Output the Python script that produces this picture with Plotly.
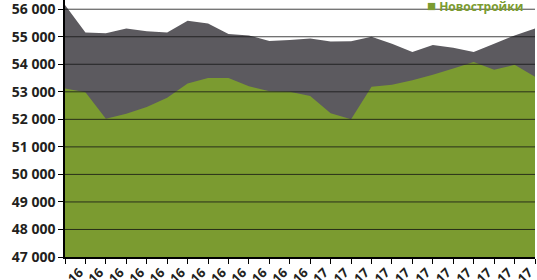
import plotly.graph_objects as go

# categories (only the visible year suffix of each label)
tick_labels = [""] + ["16"] * 12 + ["17"] * 11
x_idx = list(range(24))

# secondary market (grey, behind)
secondary = [56150, 55150, 55130, 55300, 55200, 55150, 55580, 55480, 55100, 55050,
             54850, 54880, 54940, 54830, 54840, 55000, 54750, 54450, 54700, 54600,
             54450, 54750, 55050, 55300]
# new buildings (green, front)
new_builds = [53120, 52980, 52020, 52200, 52450, 52780, 53300, 53500, 53500, 53200,
              53020, 53000, 52850, 52220, 52000, 53180, 53260, 53420, 53620, 53850,
              54080, 53800, 53980, 53550]

y_ticks = list(range(47000, 57000, 1000))
y_labels = [f"{v//1000} 000" for v in y_ticks]

GREEN = "#7b9b30"
GREY = "#5c5a5f"
FONT = "Open Sans"
LABEL_SHIFT = 0.3  # labels sit slightly left of their tick mark

fig = go.Figure()
fig.add_trace(go.Scatter(x=x_idx, y=secondary, mode="none", fill="tozeroy",
                         fillcolor=GREY, name="Вторичный рынок", showlegend=False))
fig.add_trace(go.Scatter(x=x_idx, y=new_builds, mode="none", fill="tozeroy",
                         fillcolor=GREEN, name="Новостройки", showlegend=False))

# gridlines drawn above the areas
for v in y_ticks[1:]:
    fig.add_shape(type="line", xref="paper", x0=0, x1=1, yref="y", y0=v, y1=v,
                  line=dict(color="rgba(20,20,20,0.8)", width=1), layer="above")

# legend entry (top part is cropped in the reference)
fig.add_annotation(xref="paper", yref="paper", x=0.979, y=0.982,
                   xanchor="right", yanchor="middle", showarrow=False,
                   text='<b><span style="font-size:15px">■</span> Новостройки</b>',
                   font=dict(family=FONT, size=12, color=GREEN))

fig.update_layout(
    width=537, height=280,
    margin=dict(l=65, r=2, t=0, b=23, autoexpand=False),
    paper_bgcolor="white", plot_bgcolor="white",
    font=dict(family=FONT, color="#231f20"),
    showlegend=False,
)
fig.update_xaxes(
    range=[0, 23], tickmode="array",
    tickvals=[i - LABEL_SHIFT for i in x_idx], ticktext=tick_labels,
    tickangle=-45, showgrid=False, zeroline=False,
    showline=True, linecolor="black", linewidth=1.5,
    ticks="", 
    minor=dict(tickmode="array", tickvals=x_idx, ticks="outside", ticklen=5,
               tickcolor="black", tickwidth=1, showgrid=False),
    tickfont=dict(family=FONT, size=13, color="#231f20", weight="bold"),
    ticklabeloverflow="allow", ticklabelstandoff=1,
    layer="above traces",
)
fig.update_yaxes(
    range=[47000, 56335], tickmode="array", tickvals=y_ticks, ticktext=y_labels,
    showgrid=False, zeroline=False,
    showline=True, linecolor="black", linewidth=1.5,
    ticks="outside", ticklen=5, tickcolor="black", tickwidth=1,
    tickfont=dict(family=FONT, size=14, color="#231f20", weight="bold"),
    ticklabeloverflow="allow",
    layer="above traces",
)

fig.write_html("out.html")
